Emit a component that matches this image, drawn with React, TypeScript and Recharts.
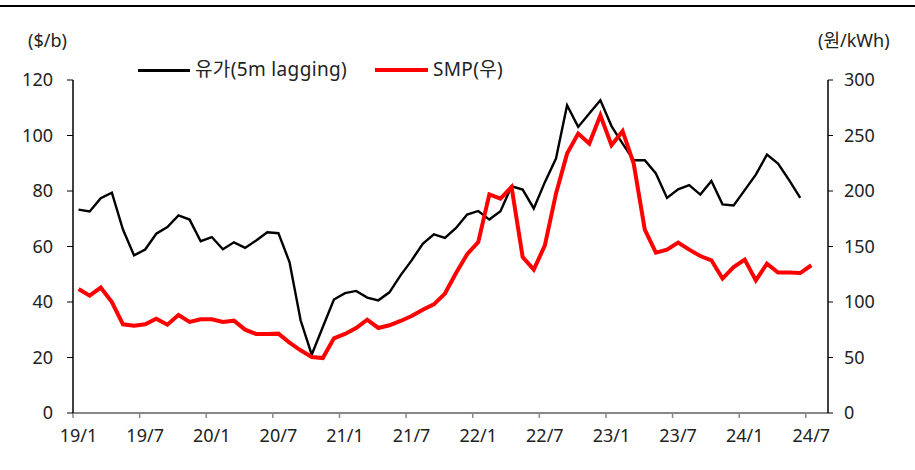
import { LineChart, Line, XAxis, YAxis } from "recharts"

// x-axis tick labels, one every 6 months starting 19/1
const tickLabels = ["19/1", "19/7", "20/1", "20/7", "21/1", "21/7", "22/1", "22/7", "23/1", "23/7", "24/1", "24/7"]
const monthCount = 68

// 유가 (5m lagging), $/b, monthly from 19/1
const oilPrice = [
	73.3, 72.6, 77.4, 79.4, 66.1, 56.8, 58.9, 64.6, 67.0, 71.2, 69.7, 61.9,
	63.4, 59.0, 61.5, 59.5, 62.2, 65.1, 64.8, 54.4, 33.4, 21.0, 31.0, 40.9,
	43.2, 44.0, 41.6, 40.6, 43.5, 49.6, 55.0, 61.0, 64.4, 63.1, 66.7, 71.5,
	72.8, 69.7, 72.7, 81.7, 80.5, 73.7, 83.2, 91.7, 110.9, 103.1, 107.9, 112.7,
	103.4, 97.1, 91.1, 91.1, 86.3, 77.5, 80.6, 82.1, 78.7, 83.6, 75.2, 74.8,
	80.3, 85.9, 93.1, 89.9, 83.9, 77.5,
]

// SMP, 원/kWh, monthly from 19/1
const smp = [
	111.7, 105.7, 113.0, 100.0, 79.9, 78.7, 79.9, 85.0, 79.6, 88.3, 82.0, 84.4,
	84.4, 82.0, 83.2, 75.1, 71.2, 71.2, 71.5, 63.4, 56.5, 50.5, 49.5, 67.3,
	71.2, 76.5, 84.1, 76.6, 79.0, 82.9, 87.4, 93.1, 97.9, 107.6, 126.1, 143.0,
	154.0, 197.0, 193.1, 203.6, 140.5, 129.2, 151.0, 197.6, 233.7, 251.7, 242.7, 268.2,
	241.2, 253.9, 224.7, 165.2, 144.5, 147.2, 153.5, 147.2, 141.4, 137.6, 121.1, 131.5,
	138.2, 119.5, 134.6, 126.5, 126.5, 126.1, 133.1,
]

const leftTicks = [0, 20, 40, 60, 80, 100, 120]
const rightTicks = [0, 50, 100, 150, 200, 250, 300]

const chartData = Array.from({ length: monthCount }, (_, i) => ({
	x: i + 0.5,
	oil: oilPrice[i] ?? null,
	smp: smp[i] ?? null,
}))

const FONT = "'Noto Sans', 'Noto Sans CJK KR', sans-serif"
const TEXT = "#222"
const HALF_MONTH = 5.55

const MonthTick = ({ x, y, payload }: any) => (
	<text x={x + HALF_MONTH} y={y + 22} textAnchor='middle' fill={TEXT} fontSize={18} fontFamily={FONT}>
		{tickLabels[Math.round(payload.value / 6)]}
	</text>
)

const textStyle = { position: "absolute" as const, fontFamily: FONT, fontSize: 18, color: TEXT, lineHeight: "24px" }
const legendText = { ...textStyle, top: 57, fontSize: 19, letterSpacing: 0.35 }

export default function App() {
	return (
		<div style={{ position: "absolute", left: 0, top: 0, width: 915, height: 470, background: "#fff" }}>
			<div style={{ position: "absolute", left: 0, top: 5, width: 915, height: 2, background: "#000" }} />
			<div style={{ ...textStyle, left: 28, top: 28 }}>($/b)</div>
			<div style={{ ...textStyle, left: 818, top: 28 }}>(원/kWh)</div>

			<div style={{ position: "absolute", left: 138, top: 69, width: 52, height: 2.5, background: "#000" }} />
			<div style={{ ...legendText, left: 195 }}>유가(5m lagging)</div>
			<div style={{ position: "absolute", left: 375, top: 68, width: 53, height: 4, background: "#ff0000" }} />
			<div style={{ ...legendText, left: 433 }}>SMP(우)</div>

			<LineChart width={915} height={470} data={chartData} margin={{ top: 80, right: 0, bottom: 27, left: 0 }}>
				<XAxis
					dataKey='x'
					type='number'
					domain={[0, monthCount]}
					ticks={[0, 6, 12, 18, 24, 30, 36, 42, 48, 54, 60, 66]}
					tick={<MonthTick />}
					tickSize={5}
					tickMargin={2}
					height={30}
					axisLine={{ stroke: "#888", strokeWidth: 2 }}
					tickLine={{ stroke: "#888", strokeWidth: 1.5 }}
					interval={0}
				/>
				<YAxis
					yAxisId='left'
					domain={[0, 120]}
					ticks={leftTicks}
					width={73}
					tickSize={6}
					tickMargin={14}
					axisLine={{ stroke: "#000", strokeWidth: 1.5 }}
					tickLine={{ stroke: "#000" }}
					tick={{ fill: TEXT, fontSize: 18, fontFamily: FONT }}
				/>
				<YAxis
					yAxisId='right'
					orientation='right'
					domain={[0, 300]}
					ticks={rightTicks}
					width={87}
					tickSize={5}
					tickMargin={11}
					axisLine={{ stroke: "#000", strokeWidth: 1.5 }}
					tickLine={{ stroke: "#000" }}
					tick={{ fill: TEXT, fontSize: 18, fontFamily: FONT, textAnchor: "start" }}
				/>
				<Line
					yAxisId='left'
					dataKey='oil'
					stroke='#000'
					strokeWidth={2.4}
					dot={false}
					activeDot={false}
					isAnimationActive={false}
				/>
				<Line
					yAxisId='right'
					dataKey='smp'
					stroke='#ff0000'
					strokeWidth={4}
					dot={false}
					activeDot={false}
					isAnimationActive={false}
				/>
			</LineChart>
		</div>
	)
}
